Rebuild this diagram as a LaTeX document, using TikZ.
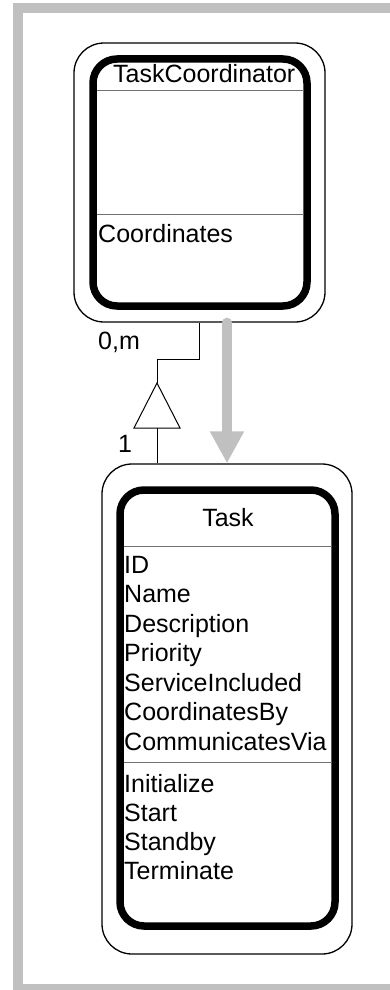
\documentclass[tikz,border=0pt]{standalone}
\usepackage{fontspec}
\setmainfont{Liberation Sans}
\usetikzlibrary{arrows.meta,calc}
\definecolor{frameg}{HTML}{C0C0C0}
\definecolor{sepg}{HTML}{707070}
\begin{document}
\begin{tikzpicture}[x=1pt,y=-1pt,
  outerbox/.style={draw=black,line width=1.3pt,rounded corners=30pt,rectangle,inner sep=0pt},
  innerbox/.style={draw=black,line width=7.5pt,rounded corners=24pt,rectangle,inner sep=0pt},
  sepline/.style={draw=sepg,line width=1pt},
  lbl/.style={anchor=base west,inner sep=0pt,font=\fontsize{25}{29}\selectfont},
  conn/.style={draw=black,line width=1pt},
  bigarrow/.style={draw=frameg,line width=10pt,line cap=round,-{Triangle[length=32pt,width=32pt]}},
]
\useasboundingbox (0,0) rectangle (390,990);
\draw[frameg,line width=10pt] (18,8) rectangle (400,989);

% TaskCoordinator class
\node[lbl] (tcTitle) at (113,82) {TaskCoordinator};
\node[lbl] (tcOp1) at (98,242) {Coordinates};
\node[outerbox,minimum width=251pt,minimum height=279pt] (tcOut) at (199.5,182.5) {};
\node[innerbox,minimum width=214pt,minimum height=247pt] (tcIn) at (200,182.5) {};
\draw[sepline] (96.5,90) -- (303.5,90);
\draw[sepline] (96.5,214) -- (303.5,214);

% Task class
\node[lbl,anchor=base] (tTitle) at (228,526) {Task};
\node[lbl] (a1) at (124,573) {ID};
\node[lbl] (a2) at (124,602.5) {Name};
\node[lbl] (a3) at (124,632) {Description};
\node[lbl] (a4) at (124,661.5) {Priority};
\node[lbl] (a5) at (124,691) {ServiceIncluded};
\node[lbl] (a6) at (124,720.5) {CoordinatesBy};
\node[lbl] (a7) at (124,750) {CommunicatesVia};
\node[lbl] (m1) at (124,792) {Initialize};
\node[lbl] (m2) at (124,821) {Start};
\node[lbl] (m3) at (124,850) {Standby};
\node[lbl] (m4) at (124,879) {Terminate};
\node[outerbox,minimum width=250pt,minimum height=490pt] (taskOut) at (227,709) {};
\node[innerbox,minimum width=215pt,minimum height=436pt] (taskIn) at (227.5,708) {};
\draw[sepline] (123.5,546) -- (331.5,546);
\draw[sepline] (123.5,762) -- (331.5,762);

% aggregation connector
\coordinate (triA) at (157,383);
\coordinate (triL) at (134,428);
\coordinate (triR) at (180,428);
\coordinate (triB) at (157,428);
\draw[conn] (tcOut.south) -- ++(0,37) -| (triA);
\draw[conn,fill=white] (triA) -- (triL) -- (triR) -- cycle;
\draw[conn] (triB) -- (triB |- taskOut.north);
\node[lbl] (mult1) at (98,349) {0,m};
\node[lbl] (mult2) at (118,452) {1};

% gray arrow
\draw[bigarrow] (taskOut.north |- tcOut.south) -- (taskOut.north);
\end{tikzpicture}
\end{document}
